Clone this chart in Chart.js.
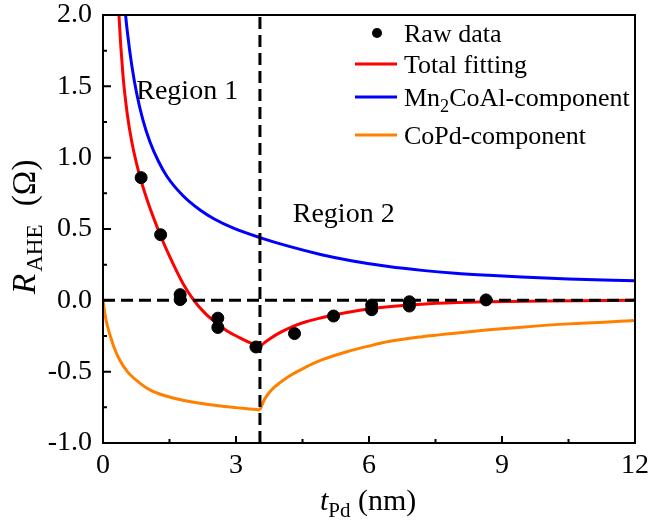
<!DOCTYPE html>
<html>
<head>
<meta charset="utf-8">
<script src="https://cdn.jsdelivr.net/npm/chart.js@4.4.1/dist/chart.umd.min.js"></script>
<style>
    html, body { margin: 0; padding: 0; background: #fff; }
    #wrap { width: 649px; height: 521px; position: relative; }
</style>
</head>
<body>
<div id="wrap"><canvas id="aheChart"></canvas></div>
<script>
// measured points (t_Pd in nm, R_AHE in ohm)
const rawX = [0.86, 1.30, 1.74, 1.74, 2.59, 2.59, 3.45, 4.32, 5.20, 6.06, 6.06, 6.91, 6.91, 8.64];
const rawY = [0.86, 0.46, 0.04, 0.005, -0.125, -0.19, -0.327, -0.233, -0.11, -0.033, -0.066, -0.01, -0.04, 0.003];

// fitted curves
const totalX = [0.30, 0.36, 0.45, 0.55, 0.65, 0.83, 1.00, 1.29, 1.50, 1.81, 2.05, 2.30, 2.56, 2.80, 3.09, 3.30, 3.54,
                3.65, 3.80, 4.00, 4.30, 4.60, 4.93, 5.20, 5.50, 6.06, 6.50, 7.19, 8.00, 8.69, 10.0, 12.0];
const totalY = [2.45, 2.00, 1.58, 1.30, 1.11, 0.87, 0.70, 0.46, 0.31, 0.115, 0.00, -0.09, -0.16, -0.215, -0.263, -0.295, -0.324,
                -0.295, -0.262, -0.225, -0.18, -0.148, -0.122, -0.103, -0.085, -0.058, -0.043, -0.027, -0.016, -0.01, -0.004, 0.0];

const mnX = [0.42, 0.45, 0.50, 0.55, 0.65, 0.76, 0.90, 1.06, 1.25, 1.44, 1.80, 2.19, 2.50, 2.93, 3.54, 4.20, 4.93,
             5.60, 6.44, 7.20, 7.94, 8.70, 9.44, 10.5, 12.0];
const mnY = [2.36, 2.22, 2.03, 1.88, 1.645, 1.45, 1.265, 1.11, 0.975, 0.87, 0.735, 0.633, 0.572, 0.508, 0.44, 0.378, 0.32,
             0.278, 0.237, 0.21, 0.19, 0.175, 0.163, 0.15, 0.137];

const copdX = [0.0, 0.04, 0.10, 0.16, 0.25, 0.38, 0.55, 0.83, 1.10, 1.44, 1.80, 2.19, 2.60, 3.00, 3.30, 3.54,
               3.65, 3.80, 4.00, 4.18, 4.50, 4.93, 5.50, 6.00, 6.44, 7.20, 7.94, 8.70, 9.44, 10.5, 12.0];
const copdY = [0.0, -0.09, -0.18, -0.245, -0.33, -0.42, -0.50, -0.58, -0.635, -0.672, -0.70, -0.722, -0.739, -0.752, -0.761, -0.768,
               -0.69, -0.628, -0.575, -0.535, -0.48, -0.418, -0.36, -0.32, -0.289, -0.255, -0.23, -0.207, -0.188, -0.165, -0.142];

// guide lines
const boundary = 3.54;
const zeroLineX = [0, 12];
const zeroLineY = [0, 0];
const boundaryX = [boundary, boundary];
const boundaryY = [-1, 2];

const xTickValues = [0, 3, 6, 9, 12];
const yTickValues = [-1.0, -0.5, 0.0, 0.5, 1.0, 1.5, 2.0];

const legendLabels = [
    [{ t: "Raw data" }],
    [{ t: "Total fitting" }],
    [{ t: "Mn" }, { t: "2", sub: true }, { t: "CoAl-component" }],
    [{ t: "CoPd-component" }]
];
const regionLabels = [["Region 1", 0.75, 1.41], ["Region 2", 4.28, 0.55]];

const FONT = '"Liberation Serif", "Times New Roman", serif';

function zip(xs, ys) {
    return xs.map((x, i) => ({ x: x, y: ys[i] }));
}

// split a fitted curve at the region boundary so the cusp stays sharp
function leftPart(xs, ys) { return zip(xs, ys).filter(p => p.x <= boundary); }
function rightPart(xs, ys) { return zip(xs, ys).filter(p => p.x >= boundary); }

function font(size, italic) {
    return (italic ? "italic " : "") + size + "px " + FONT;
}

// draws a run of text pieces, subscripts smaller and lower
function drawRich(ctx, parts, x, y, size) {
    parts.forEach(p => {
        let s = p.sub ? size * 0.7 : size;
        ctx.font = font(s, p.italic);
        x += p.gap || 0;
        ctx.fillText(p.t, x, p.sub ? y + size * 0.22 : y);
        x += ctx.measureText(p.t).width;
    });
}

function curve(data, color) {
    return {
        data: data,
        showLine: true,
        borderColor: color,
        backgroundColor: color,
        borderWidth: 3,
        pointRadius: 0,
        cubicInterpolationMode: "monotone"
    };
}

function dashed(data) {
    return {
        data: data,
        showLine: true,
        borderColor: "#000",
        borderWidth: 3,
        borderDash: [12, 6],
        pointRadius: 0
    };
}

const frameAndText = {
    id: "frameAndText",
    afterDatasetsDraw(chart) {
        const ctx = chart.ctx;
        const area = chart.chartArea;
        const xs = chart.scales.x, ys = chart.scales.y;
        ctx.save();
        ctx.strokeStyle = "#000";
        ctx.lineWidth = 2;
        ctx.strokeRect(area.left, area.top, area.right - area.left, area.bottom - area.top);

        // inward ticks, major + minor
        ctx.beginPath();
        xTickValues.forEach((v, i) => {
            let px = xs.getPixelForValue(v);
            ctx.moveTo(px, area.bottom); ctx.lineTo(px, area.bottom - 7);
            if (i < xTickValues.length - 1) {
                let mx = xs.getPixelForValue((v + xTickValues[i + 1]) / 2);
                ctx.moveTo(mx, area.bottom); ctx.lineTo(mx, area.bottom - 4);
            }
        });
        yTickValues.forEach((v, i) => {
            let py = ys.getPixelForValue(v);
            ctx.moveTo(area.left, py); ctx.lineTo(area.left + 8, py);
            if (i < yTickValues.length - 1) {
                let my = ys.getPixelForValue((v + yTickValues[i + 1]) / 2);
                ctx.moveTo(area.left, my); ctx.lineTo(area.left + 4, my);
            }
        });
        ctx.stroke();
        ctx.restore();
    },
    afterDraw(chart) {
        const ctx = chart.ctx;
        const xs = chart.scales.x, ys = chart.scales.y;
        const ds = chart.data.datasets;
        ctx.save();
        ctx.fillStyle = "#000";
        ctx.textBaseline = "alphabetic";
        ctx.textAlign = "left";

        regionLabels.forEach(r => {
            ctx.font = font(28);
            ctx.fillText(r[0], xs.getPixelForValue(r[1]), ys.getPixelForValue(r[2]));
        });

        // axis titles
        drawRich(ctx, [{ t: "t", italic: true }, { t: "Pd", sub: true }, { t: " (nm)" }], 320, 510, 30);
        ctx.save();
        ctx.translate(35, 294);
        ctx.rotate(-Math.PI / 2);
        drawRich(ctx, [{ t: "R", italic: true, gap: 0 }, { t: "AHE", sub: true, gap: 2 }, { t: " (\u03A9)", gap: 10 }], 0, 0, 33);
        ctx.restore();

        // legend inside the frame
        const legendRows = [33, 64, 97, 135];
        const keyColors = [ds[0].backgroundColor, ds[3].borderColor, ds[5].borderColor, ds[7].borderColor];
        legendLabels.forEach((parts, i) => {
            let cy = legendRows[i];
            if (i === 0) {
                ctx.beginPath();
                ctx.arc(377, cy, 5, 0, Math.PI * 2);
                ctx.fillStyle = keyColors[i];
                ctx.fill();
            } else {
                ctx.beginPath();
                ctx.strokeStyle = keyColors[i];
                ctx.lineWidth = 3;
                ctx.moveTo(355, cy); ctx.lineTo(397, cy);
                ctx.stroke();
            }
            ctx.fillStyle = "#000";
            drawRich(ctx, parts, 404, cy + 9, 26);
        });
        ctx.restore();
    }
};

function fixScale(scale, size) {
    if (scale.isHorizontal()) scale.height = size; else scale.width = size;
    scale.paddingTop = 0;
    scale.paddingBottom = 0;
    scale.paddingLeft = 0;
    scale.paddingRight = 0;
}

const chart = new Chart(document.getElementById("aheChart"), {
    type: "scatter",
    data: {
        datasets: [
            {
                label: "Raw data",
                data: zip(rawX, rawY),
                backgroundColor: "#000",
                borderColor: "#000",
                pointRadius: 6,
                pointHoverRadius: 6
            },
            dashed(zip(zeroLineX, zeroLineY)),
            dashed(zip(boundaryX, boundaryY)),
            curve(leftPart(totalX, totalY), "#ff0000"),
            curve(rightPart(totalX, totalY), "#ff0000"),
            curve(zip(mnX, mnY), "#0000ff"),
            curve(leftPart(copdX, copdY), "#ff8000"),
            curve(rightPart(copdX, copdY), "#ff8000")
        ]
    },
    options: {
        responsive: true,
        maintainAspectRatio: false,
        animation: false,
        events: [],
        layout: { padding: { top: 15, right: 14, left: 0, bottom: 0 } },
        plugins: {
            legend: { display: false },
            tooltip: { enabled: false }
        },
        scales: {
            x: {
                type: "linear",
                min: 0,
                max: 12,
                grid: { display: false, drawTicks: false },
                border: { display: false },
                afterBuildTicks: scale => { scale.ticks = xTickValues.map(v => ({ value: v })); },
                afterFit: scale => fixScale(scale, 78),
                ticks: {
                    color: "#000",
                    padding: 6,
                    maxRotation: 0,
                    font: { family: FONT, size: 28 },
                    callback: v => String(v)
                }
            },
            y: {
                type: "linear",
                min: -1,
                max: 2,
                grid: { display: false, drawTicks: false },
                border: { display: false },
                afterBuildTicks: scale => { scale.ticks = yTickValues.map(v => ({ value: v })); },
                afterFit: scale => fixScale(scale, 103),
                ticks: {
                    color: "#000",
                    padding: 11,
                    font: { family: FONT, size: 28 },
                    callback: v => v.toFixed(1)
                }
            }
        }
    },
    plugins: [frameAndText]
});
</script>
</body>
</html>
